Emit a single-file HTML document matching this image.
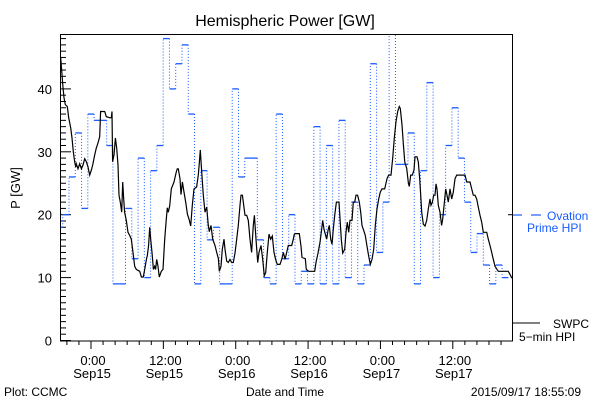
<!DOCTYPE html>
<html><head><meta charset="utf-8"><style>
body{margin:0;background:#fff;}
svg{display:block;font-family:"Liberation Sans",sans-serif;}
</style></head><body>
<svg id="chart" width="600" height="400" viewBox="0 0 600 400">
<defs><clipPath id="pc"><rect x="61" y="35" width="451" height="306"/></clipPath></defs>
<text x="285" y="26" font-size="16" text-anchor="middle">Hemispheric Power [GW]</text>
<text transform="translate(20,188) rotate(-90)" font-size="13" text-anchor="middle">P [GW]</text>
<text x="285" y="396" font-size="12" text-anchor="middle">Date and Time</text>
<text x="4" y="396" font-size="12">Plot: CCMC</text>
<text x="581" y="396" font-size="12" text-anchor="end">2015/09/17 18:55:09</text>
<g>
<line x1="512" y1="215" x2="522" y2="215" stroke="#1a5cff" stroke-width="1.2"/>
<line x1="531" y1="215" x2="541" y2="215" stroke="#1a5cff" stroke-width="1.2"/>
<text x="547" y="220" font-size="12" fill="#1a5cff">Ovation</text>
<text x="527" y="232" font-size="12" fill="#1a5cff">Prime HPI</text>
</g>
<g>
<line x1="512" y1="323" x2="540" y2="323" stroke="#000" stroke-width="1"/>
<text x="553" y="328" font-size="12">SWPC</text>
<text x="519" y="341" font-size="12">5−min HPI</text>
</g>
<g id="axes"></g>
<g id="series" clip-path="url(#pc)"></g>
<rect x="60.5" y="34.5" width="452" height="306.5" fill="none" stroke="#000" stroke-width="1"/>
</svg>
<script>
// Ovation Prime HPI (hourly-ish step values, GW)
const blueStart = -5.73;
const blueStep = 1.041;
const blueValues = [18,20,26,33,21,36,35,35,31,9,9,21,13,29,10,27,31,48,40,44,47,36,9,27,16,18,9,9,40,26,29,29,16,10,9,36,13,20,9,11,9,34,9,31,9,35,10,22,9,12,44,14,22,50,28,28,33,9,27,41,10,20,31,37,29,22,14,17,12,9,12,10];
// SWPC 5-min HPI (hours since Sep15 00:00, GW)
const blackTimes = [-5.03,-4.92,-4.64,-4.48,-4.26,-3.93,-3.70,-3.37,-3.15,-2.93,-2.71,-2.54,-2.43,-2.16,-1.88,-1.60,-1.33,-1.05,-0.77,-0.50,-0.22,0.06,0.28,0.61,0.88,1.16,1.44,1.60,2.27,2.54,3.10,3.37,3.48,3.59,3.81,4.04,4.26,4.48,4.64,4.86,5.09,5.25,5.42,5.58,5.86,6.14,6.41,6.69,6.97,7.24,7.52,8.07,8.35,8.68,8.90,9.18,9.34,9.56,9.73,9.90,10.12,10.34,10.56,10.72,10.89,11.11,11.33,11.66,11.94,12.22,12.49,12.66,12.82,13.05,13.32,13.76,14.15,14.32,
14.48,14.76,14.93,15.15,15.42,15.70,15.98,16.25,16.53,16.80,17.08,17.52,17.80,17.97,18.13,18.35,18.63,18.91,19.18,19.46,19.62,19.90,20.18,20.56,20.84,21.12,21.28,21.56,21.78,22.06,22.22,22.50,22.77,23.05,23.33,23.60,23.88,24.16,24.43,24.71,24.88,25.10,25.26,25.54,25.82,26.09,26.37,26.64,26.92,27.09,27.36,27.64,27.86,28.19,28.47,28.74,28.97,29.24,29.52,29.80,30.07,30.35,30.62,30.90,31.34,31.62,31.90,32.17,32.45,32.72,33.28,33.55,33.72,
33.89,34.55,34.83,34.99,35.54,35.71,36.10,37.09,37.31,37.65,37.98,38.20,38.42,38.64,38.86,39.08,39.30,39.52,39.75,39.97,40.19,40.41,40.69,41.13,41.29,41.51,41.74,42.07,42.29,42.51,42.73,42.95,43.28,43.50,43.73,43.95,44.22,44.50,44.72,44.94,45.22,45.49,45.77,46.05,46.32,46.60,46.88,47.15,47.43,47.71,47.98,48.26,48.70,49.09,49.36,49.75,50.03,50.30,50.58,50.86,51.13,51.30,51.58,51.80,52.02,
52.07,52.35,52.63,52.79,53.01,53.29,53.57,53.73,54.06,54.28,54.51,54.67,54.84,55.11,55.39,55.67,55.94,56.22,56.38,56.61,56.83,57.05,57.21,57.38,57.60,57.88,58.15,58.32,58.60,58.82,59.04,59.26,59.54,59.81,60.09,60.36,60.64,62.02,62.30,62.85,63.13,63.40,63.68,63.96,64.23,64.51,64.79,65.06,65.62,65.89,66.17,66.45,66.72,67.00,67.55,69.21,69.65,69.76];
const blackValues = [45.0,43.7,40.2,38.6,37.5,37.2,35.4,33.8,32.2,30.0,28.4,27.6,28.1,27.3,28.1,27.3,27.9,28.9,28.4,27.6,26.3,27.1,27.9,29.5,30.6,31.4,32.4,36.4,36.4,35.6,35.4,35.4,36.4,28.4,29.5,32.2,30.6,27.9,23.1,22.0,20.4,25.2,22.5,20.4,19.1,17.2,16.7,16.1,14.0,11.8,11.3,11.0,10.1,10.1,11.3,12.9,13.5,15.1,18.0,16.1,14.0,11.3,11.8,11.3,12.9,11.8,10.1,11.0,11.3,16.1,19.3,21.1,20.4,21.4,24.1,25.2,26.8,27.3,
27.3,25.7,23.2,25.2,23.6,22.0,20.1,19.3,18.2,21.5,24.1,24.4,26.3,28.4,30.3,26.8,23.1,20.4,21.2,18.3,17.3,18.3,16.1,15.1,14.0,13.0,11.0,11.8,14.5,16.1,14.5,12.6,12.4,12.9,12.4,12.4,13.9,16.1,18.3,21.5,23.1,23.1,22.0,19.9,19.9,19.1,16.1,14.0,18.3,19.9,16.1,12.4,14.0,15.1,12.9,10.3,10.8,14.0,16.9,16.1,16.6,14.0,12.9,12.1,12.1,12.9,14.0,12.9,14.0,15.1,15.1,16.1,16.9,
17.0,17.0,15.0,13.2,13.0,11.3,11.0,11.0,12.4,13.9,15.6,17.2,19.1,17.7,16.9,16.1,17.5,18.3,16.1,15.3,17.7,19.9,22.0,22.0,19.4,16.1,13.9,14.5,17.2,18.8,17.2,19.1,19.1,22.0,22.0,23.1,23.1,22.0,20.4,18.3,17.5,16.7,15.0,13.4,12.1,12.9,14.5,18.3,20.9,22.5,23.6,24.1,24.1,25.7,26.3,26.3,29.0,32.2,34.8,36.4,37.2,36.9,34.3,31.1,28.5,
28.2,27.4,25.0,24.5,26.3,26.3,27.1,29.2,29.2,28.4,25.7,23.1,20.4,18.5,18.2,19.1,20.9,22.5,21.5,22.0,23.1,23.1,24.9,24.1,21.5,20.4,18.3,19.3,22.0,24.1,23.1,22.0,24.1,22.5,23.6,25.7,26.3,26.3,25.2,25.2,24.1,23.1,23.1,22.5,21.2,19.9,18.8,17.2,17.2,16.1,15.1,14.0,12.9,11.8,11.0,11.0,10.2,9.9];
const yTicks = [0,10,20,30,40];
const xTickHours = [0,12,24,36,48,60];
const xTickTimes = ["0:00","12:00","0:00","12:00","0:00","12:00"];
const xTickDates = ["Sep15","Sep15","Sep16","Sep16","Sep17","Sep17"];

const NS = "http://www.w3.org/2000/svg";
const X = t => 91 + t * 6.03;
const Y = v => 340.5 - v * 6.29;
function mk(tag, attrs, parent){const e=document.createElementNS(NS,tag);for(const k in attrs)e.setAttribute(k,attrs[k]);parent.appendChild(e);return e;}
const axes = document.getElementById('axes');
const series = document.getElementById('series');

// y ticks
for (let v = 0; v <= 48; v++) {
  const major = v % 10 === 0;
  const t = mk('line', {x1:61, x2:61 + (major?10:5), y1:Y(v), y2:Y(v), stroke:'#000','stroke-width':1}, axes);
  
  
}
yTicks.forEach(v => {
  const tx = mk('text', {x:52, y:Y(v)+5, 'font-size':13, 'text-anchor':'end'}, axes);
  tx.textContent = v;
  
  
});
// x ticks
for (let h = -4; h <= 69; h += 2) {
  const major = h % 12 === 0;
  const t = mk('line', {x1:X(h), x2:X(h), y1:341, y2:341 + (major?8:4), stroke:'#000','stroke-width':1}, axes);
  
  
}
xTickHours.forEach((h, i) => {
  const a = mk('text', {x:X(h)+2, y:365, 'font-size':13, 'text-anchor':'middle'}, axes);
  a.textContent = xTickTimes[i];
  
  
  const b = mk('text', {x:X(h)+1, y:378, 'font-size':13, 'text-anchor':'middle'}, axes);
  b.textContent = xTickDates[i];
  
  
});
// right-side ticks
mk('line', {x1:512, x2:508, y1:Y(20), y2:Y(20), stroke:'#000'}, axes);

// blue steps
const blue = '#1a5cff';
blueValues.forEach((v, i) => {
  const t0 = blueStart + (i === 0 ? 0 : (blueStep * (i - 1) + 1.041));
  const t1 = i === 0 ? blueStart + 1.041 : t0 + blueStep;
  const seg = mk('line', {x1:X(t0), x2:X(t1), y1:Y(v), y2:Y(v), stroke:blue, 'stroke-width':1.3}, series);
  
  
  if (i > 0) {
    const pv = blueValues[i-1];
    const c = mk('line', {x1:X(t0), x2:X(t0), y1:Y(pv), y2:Y(v), stroke:blue, 'stroke-width':1, 'stroke-dasharray':'1,2'}, series);
    
    
  }
});
// black line
let d = '';
blackTimes.forEach((t, i) => { d += (i ? 'L' : 'M') + X(t).toFixed(1) + ',' + Y(blackValues[i]).toFixed(1); });
const bl = mk('path', {d:d, fill:'none', stroke:'#000', 'stroke-width':1.2}, series);


</script>
</body></html>
